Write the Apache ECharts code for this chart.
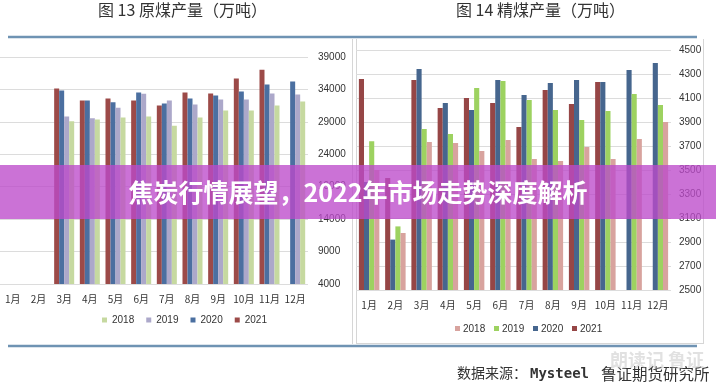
<!DOCTYPE html>
<html><head><meta charset="utf-8">
<script src="https://cdn.jsdelivr.net/npm/echarts@6/dist/echarts.min.js"></script>
<style>html,body{margin:0;padding:0;background:#fff}#c{width:716px;height:385px}</style>
</head><body><div id="c"></div>
<script>
var months = ['1月','2月','3月','4月','5月','6月','7月','8月','9月','10月','11月','12月'];
var years = ['2018','2019','2020','2021'];
// 原煤产量（万吨）
var raw2018 = [null,null,29075,29380,29690,29840,28410,29690,30760,30760,31530,32140];
var raw2019 = [null,null,29840,29540,31170,33320,32300,31680,32450,32450,33370,33220];
var raw2020 = [null,null,33830,32300,32040,33520,31840,32600,33060,33680,34750,35210];
var raw2021 = [null,null,34140,32300,32600,32300,31530,33520,33370,35670,37050,null];
// 精煤产量（万吨）
var clean2018 = [3500,2975,3733,3725,3658,3750,3592,3575,3692,3592,3758,3900];
var clean2019 = [3740,3030,3842,3800,4183,4242,4083,4000,3917,3992,4133,4042];
var clean2020 = [3400,2920,4342,4058,4000,4250,4125,4225,4250,4233,4333,4392];
var clean2021 = [4258,3433,4250,4017,4100,4058,3858,4167,4050,4233,null,null];

var rawColors = {'2018':'#c6d9a0','2019':'#aca8ca','2020':'#4b6fa0','2021':'#9c4a48'};
var cleanColors = {'2018':'#d8a39e','2019':'#9dd260','2020':'#46668e','2021':'#964646'};

var FONT = 'Noto Sans CJK SC';
var chart = echarts.init(document.getElementById('c'), null, {renderer:'canvas'});

function barSeries(name, data, idx, color){
  return {type:'bar', name:name, data:data, xAxisIndex:idx, yAxisIndex:idx,
    barGap:'0%', barCategoryGap:'22%', itemStyle:{color:color}, z:2};
}
function plain(v){ return String(v); }

var lineStyle = {stroke:'#6f93b3', lineWidth:2.5};
var frameStyle = {stroke:'#d6d6d6', lineWidth:1};

chart.setOption({
  animation:false,
  textStyle:{fontFamily:FONT},
  grid:[
    {left:0, right:408, top:57, bottom:101},
    {left:356, right:45, top:50, bottom:95}
  ],
  xAxis:[
    {type:'category', gridIndex:0, data:months,
     axisLine:{show:false}, axisTick:{show:false},
     axisLabel:{color:'#333', fontSize:10, margin:10, interval:0}},
    {type:'category', gridIndex:1, data:months,
     axisLine:{show:false}, axisTick:{show:false},
     axisLabel:{color:'#333', fontSize:10, margin:10, interval:0}}
  ],
  yAxis:[
    {type:'value', gridIndex:0, position:'right', min:4000, max:39000, interval:5000,
     axisLine:{show:false}, axisTick:{show:false},
     splitLine:{lineStyle:{color:'#dcdcdc'}},
     axisLabel:{color:'#333', fontSize:10, margin:10, fontFamily:'Liberation Sans', formatter:plain}},
    {type:'value', gridIndex:1, position:'right', min:2500, max:4500, interval:200,
     axisLine:{show:false}, axisTick:{show:false},
     splitLine:{lineStyle:{color:'#dcdcdc'}},
     axisLabel:{color:'#333', fontSize:10, margin:8, fontFamily:'Liberation Sans', formatter:plain}}
  ],
  legend:[
    {data:years.map(function(y){return {name:y, itemStyle:{color:rawColors[y]}};}),
     left:97, top:310, itemWidth:5, itemHeight:5, itemGap:12, icon:'rect',
     textStyle:{fontSize:10, color:'#333', fontFamily:'Liberation Sans'},
     selectedMode:false}
  ],
  series:[
    barSeries('2021', raw2021, 0, rawColors['2021']),
    barSeries('2020', raw2020, 0, rawColors['2020']),
    barSeries('2019', raw2019, 0, rawColors['2019']),
    barSeries('2018', raw2018, 0, rawColors['2018']),
    barSeries('c2021', clean2021, 1, cleanColors['2021']),
    barSeries('c2020', clean2020, 1, cleanColors['2020']),
    barSeries('c2019', clean2019, 1, cleanColors['2019']),
    barSeries('c2018', clean2018, 1, cleanColors['2018'])
  ],
  graphic:[
    {type:'text', left:98, top:2, style:{text:'图 13 原煤产量（万吨）', fill:'#333', font:'16px "Noto Sans CJK SC"'}},
    {type:'text', left:456, top:2, style:{text:'图 14 精煤产量（万吨）', fill:'#333', font:'16px "Noto Sans CJK SC"'}},
    {type:'line', shape:{x1:8, y1:37, x2:697, y2:37}, style:lineStyle},
    {type:'line', shape:{x1:8, y1:346, x2:697, y2:346}, style:lineStyle},
    {type:'line', shape:{x1:352.5, y1:39, x2:352.5, y2:344}, style:frameStyle},
    {type:'line', shape:{x1:356.5, y1:39, x2:356.5, y2:344}, style:frameStyle},
    {type:'line', shape:{x1:703.5, y1:39, x2:703.5, y2:344}, style:frameStyle},
    {type:'line', shape:{x1:356, y1:343.5, x2:704, y2:343.5}, style:frameStyle},
    {type:'group', left:455, top:324, children:
      years.map(function(y,i){
        return {type:'group', x:i*39, children:[
          {type:'rect', shape:{x:0,y:1,width:5,height:5}, style:{fill:cleanColors[y]}},
          {type:'text', x:8, y:-1, style:{text:y, fill:'#333', font:'10px "Liberation Sans"'}}
        ]};
      })
    },
    {type:'rect', shape:{x:0, y:165, width:716, height:54}, style:{fill:'rgba(188,74,202,0.78)'}, z:100},
    {type:'text', x:358, y:192, z:101, style:{text:'焦炭行情展望，2022年市场走势深度解析', fill:'#fff',
      font:'bold 25px "Noto Sans CJK SC"', align:'center', verticalAlign:'middle'}},
    {type:'text', x:610, y:351, z:50, style:{text:'朗读记 鲁证', fill:'rgba(180,180,180,0.4)', font:'bold 18px "Noto Sans CJK SC"'}},
    {type:'text', x:457, y:366, style:{text:'数据来源：', fill:'#333', font:'14px "Noto Sans CJK SC"'}},
    {type:'text', x:530, y:367, style:{text:'Mysteel', fill:'#333', font:'bold 14px "DejaVu Sans Mono"'}},
    {type:'text', x:601, y:366, style:{text:'鲁证期货研究所', fill:'#333', font:'15.5px "Noto Sans CJK SC"'}}
  ]
});
</script></body></html>
